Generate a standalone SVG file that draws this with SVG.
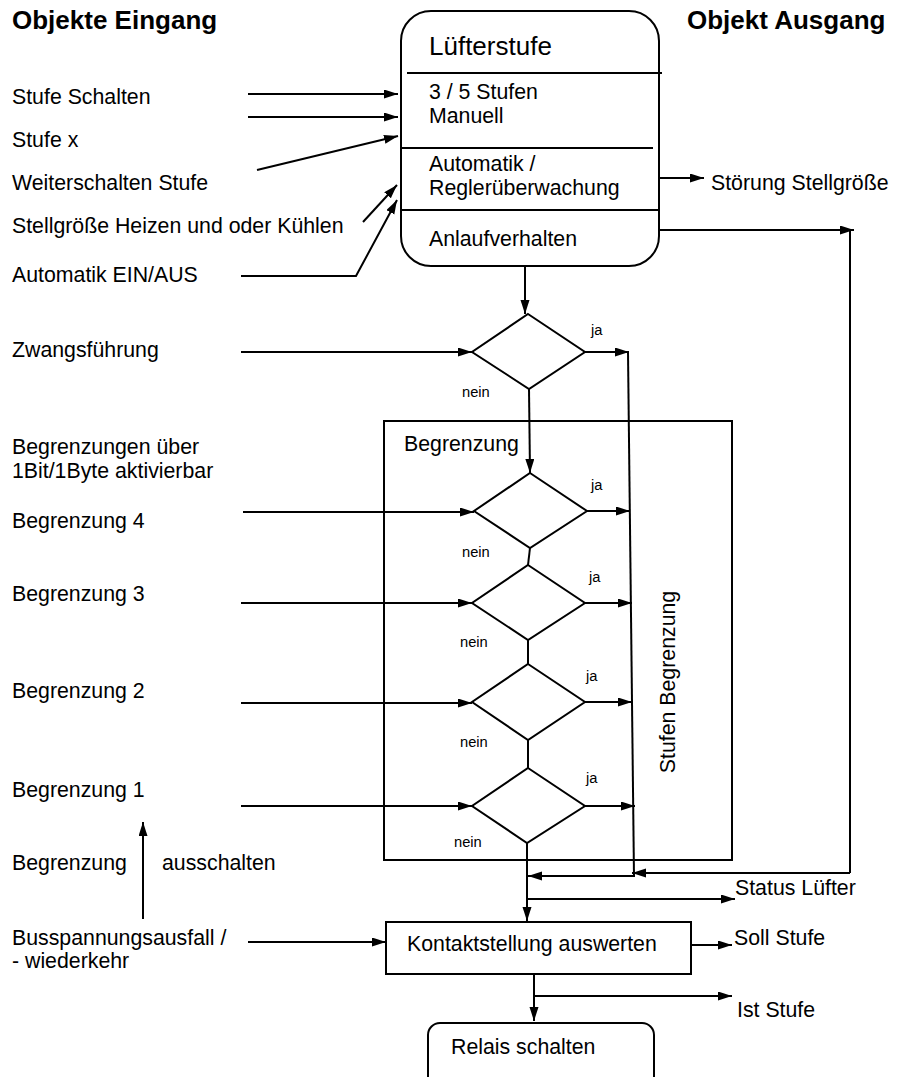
<svg xmlns="http://www.w3.org/2000/svg" width="898" height="1077" viewBox="0 0 898 1077">
<defs>
<marker id="ah" markerWidth="14" markerHeight="10" refX="14" refY="4.5" orient="auto" markerUnits="userSpaceOnUse">
<path d="M0,0 L14,4.5 L0,9 z" fill="#000"/>
</marker>
<style>
text{font-family:"Liberation Sans",Arial,sans-serif;fill:#000}
.t{font-size:21.3px}
.b{font-size:26px;font-weight:bold}
.s{font-size:14.7px}
.big{font-size:26px}
.sh{fill:#fff;stroke:#000;stroke-width:2}
.ln{fill:none;stroke:#000;stroke-width:2}
.c{fill:none;stroke:#000;stroke-width:2}
.a{marker-end:url(#ah)}
</style>
</defs>
<rect width="898" height="1077" fill="#fff"/>

<g id="labels">
<text class="b" x="12" y="29">Objekte Eingang</text>
<text class="b" x="687" y="29">Objekt Ausgang</text>
<text class="t" x="12" y="104">Stufe Schalten</text>
<text class="t" x="12" y="147">Stufe x</text>
<text class="t" x="12" y="190">Weiterschalten Stufe</text>
<text class="t" x="12" y="233">Stellgröße Heizen und oder Kühlen</text>
<text class="t" x="12" y="282">Automatik EIN/AUS</text>
<text class="t" x="12" y="357">Zwangsführung</text>
<text class="t" x="12" y="454">Begrenzungen über</text>
<text class="t" x="12" y="478">1Bit/1Byte aktivierbar</text>
<text class="t" x="12" y="528">Begrenzung 4</text>
<text class="t" x="12" y="601">Begrenzung 3</text>
<text class="t" x="12" y="698">Begrenzung 2</text>
<text class="t" x="12" y="797">Begrenzung 1</text>
<text class="t" x="12" y="870">Begrenzung</text>
<text class="t" x="162" y="870">ausschalten</text>
<text class="t" x="12" y="945">Busspannungsausfall /</text>
<text class="t" x="12" y="968">- wiederkehr</text>
<text class="t" x="711" y="190">Störung Stellgröße</text>
<text class="t" x="735" y="895">Status Lüfter</text>
<text class="t" x="734" y="945">Soll Stufe</text>
<text class="t" x="737" y="1017">Ist Stufe</text>
</g>

<g id="node-luefterstufe">
<rect class="sh" x="401" y="11" width="258" height="255" rx="30" ry="30"/>
<line class="ln" x1="407" y1="73" x2="662" y2="73"/>
<line class="ln" x1="401" y1="148" x2="653" y2="148"/>
<line class="ln" x1="401" y1="210" x2="660" y2="210"/>
<text class="big" x="429" y="55">Lüfterstufe</text>
<text class="t" x="429" y="99">3 / 5 Stufen</text>
<text class="t" x="429" y="123">Manuell</text>
<text class="t" x="429" y="171">Automatik /</text>
<text class="t" x="429" y="195">Reglerüberwachung</text>
<text class="t" x="429" y="246">Anlaufverhalten</text>
</g>

<g id="node-begrenzung">
<rect class="ln" x="384" y="421" width="348" height="439"/>
<text class="t" x="404" y="451">Begrenzung</text>
<text class="t" transform="translate(675,682) rotate(-90)" text-anchor="middle">Stufen Begrenzung</text>
</g>

<g id="node-zwang">
<polygon class="sh" points="528,314 585,352 529,389 472,352"/>
<text class="s" x="591" y="335">ja</text>
<text class="s" x="462" y="397">nein</text>
</g>
<g id="node-begr4">
<polygon class="sh" points="530,473 587,511 530,548 474,511"/>
<text class="s" x="591" y="490">ja</text>
<text class="s" x="462" y="557">nein</text>
</g>
<g id="node-begr3">
<polygon class="sh" points="528,565 585,603 528,640 472,603"/>
<text class="s" x="589" y="582">ja</text>
<text class="s" x="460" y="647">nein</text>
</g>
<g id="node-begr2">
<polygon class="sh" points="528,664 585,702 528,740 472,702"/>
<text class="s" x="586" y="681">ja</text>
<text class="s" x="460" y="747">nein</text>
</g>
<g id="node-begr1">
<polygon class="sh" points="528,768 585,806 527,843 472,806"/>
<text class="s" x="586" y="783">ja</text>
<text class="s" x="454" y="847">nein</text>
</g>

<g id="node-kontakt">
<rect class="sh" x="386" y="922" width="305" height="52"/>
<text class="t" x="407" y="951">Kontaktstellung auswerten</text>
</g>
<g id="node-relais">
<rect class="sh" x="428" y="1023" width="226" height="70" rx="12" ry="12"/>
<text class="t" x="451" y="1054">Relais schalten</text>
</g>

<g id="connectors">
<line class="c a" x1="248" y1="94" x2="398" y2="94"/>
<line class="c a" x1="248" y1="117" x2="398" y2="117"/>
<line class="c a" x1="257" y1="170" x2="398" y2="136"/>
<line class="c a" x1="363" y1="222" x2="397" y2="185"/>
<polyline class="c a" points="241,276 356,276 397,200"/>
<line class="c a" x1="659" y1="178" x2="704" y2="178"/>
<line class="c a" x1="659" y1="230" x2="854" y2="230"/>
<line class="c" x1="850" y1="230" x2="850" y2="873"/>
<line class="c a" x1="850" y1="873" x2="632" y2="873"/>
<line class="c a" x1="525" y1="266" x2="525" y2="314"/>
<line class="c a" x1="241" y1="352" x2="472" y2="352"/>
<line class="c a" x1="585" y1="352" x2="629" y2="352"/>
<line class="c" x1="628" y1="352" x2="634" y2="877"/>
<line class="c a" x1="529" y1="389" x2="530" y2="473"/>
<line class="c a" x1="243" y1="512" x2="474" y2="512"/>
<line class="c a" x1="587" y1="511" x2="630" y2="511"/>
<line class="c" x1="530" y1="548" x2="528" y2="565"/>
<line class="c a" x1="241" y1="603" x2="472" y2="603"/>
<line class="c a" x1="585" y1="603" x2="632" y2="603"/>
<line class="c" x1="528" y1="640" x2="528" y2="664"/>
<line class="c a" x1="241" y1="703" x2="472" y2="703"/>
<line class="c a" x1="585" y1="702" x2="632" y2="702"/>
<line class="c" x1="528" y1="740" x2="528" y2="768"/>
<line class="c a" x1="241" y1="806" x2="472" y2="806"/>
<line class="c a" x1="585" y1="806" x2="635" y2="806"/>
<line class="c a" x1="527" y1="843" x2="527" y2="921"/>
<line class="c a" x1="633" y1="876" x2="528" y2="876"/>
<line class="c a" x1="527" y1="899" x2="735" y2="899"/>
<line class="c a" x1="143" y1="919" x2="143" y2="822"/>
<line class="c a" x1="248" y1="942" x2="386" y2="942"/>
<line class="c a" x1="691" y1="945" x2="732" y2="945"/>
<line class="c a" x1="534" y1="974" x2="534" y2="1021"/>
<line class="c a" x1="534" y1="996" x2="732" y2="996"/>
</g>
</svg>
